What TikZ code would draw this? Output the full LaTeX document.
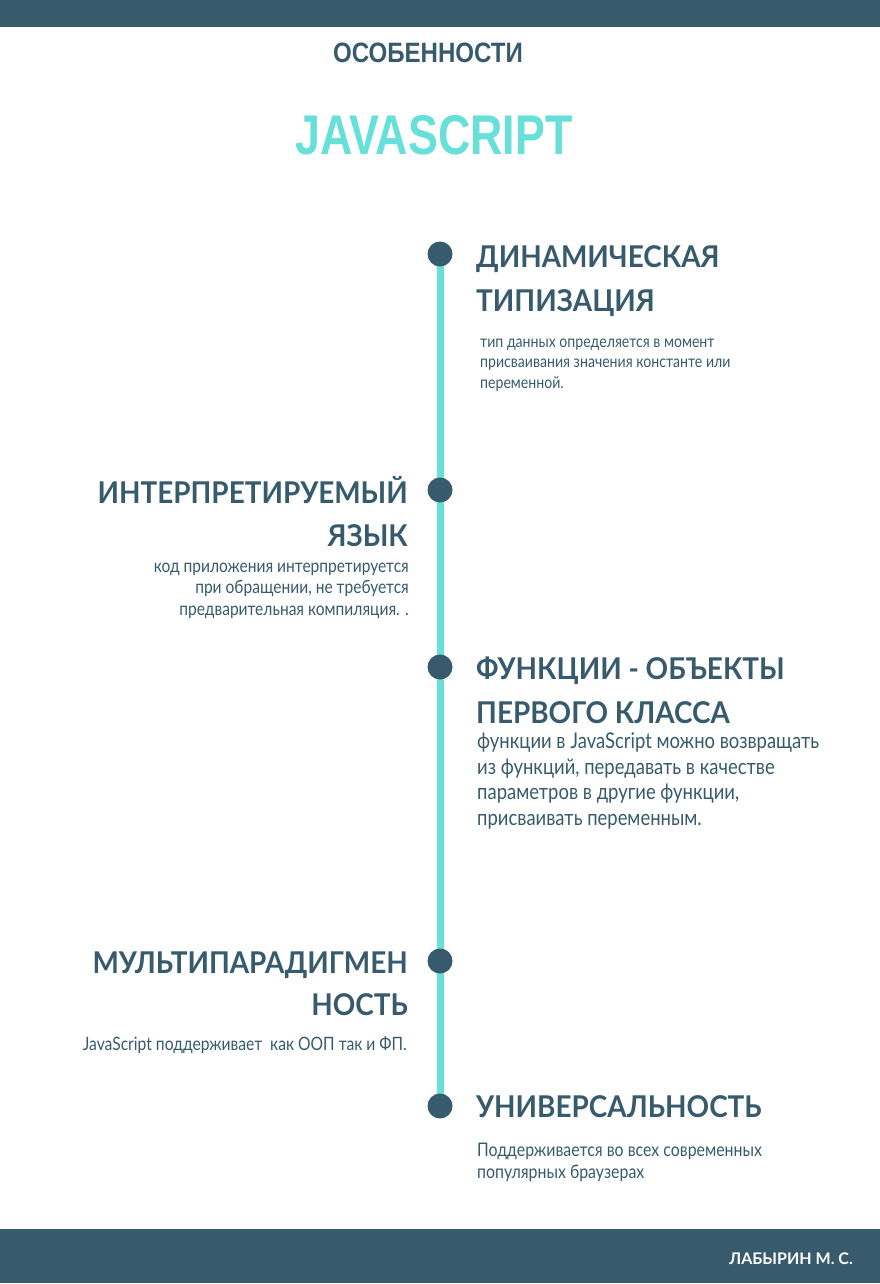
\documentclass[tikz,border=0pt]{standalone}
\usepackage{fontspec}
\setmainfont{Lato}
\newfontfamily\condfont[FakeStretch=0.86]{Liberation Sans}
\newfontfamily\titlefont[FakeStretch=0.8]{Liberation Sans}
\newfontfamily\headfont[FakeStretch=0.93]{Lato}
\newfontfamily\bodyfont[FakeStretch=0.85]{Lato}
\usetikzlibrary{positioning,backgrounds}

\definecolor{slate}{RGB}{55,91,109}
\definecolor{turq}{RGB}{102,224,216}

\tikzstyle{bar}=[fill=slate]
\tikzstyle{dot}=[circle,fill=slate,minimum size=25pt,inner sep=0pt]
\tikzstyle{spine}=[turq,line width=7pt]
\tikzstyle{heading}=[text=slate,inner sep=0pt,font=\headfont\bfseries\fontsize{30}{44}\selectfont]
\tikzstyle{body}=[text=slate,inner sep=0pt,font=\bodyfont\fontsize{18.4}{21.5}\selectfont]

\begin{document}
\begin{tikzpicture}[x=1pt,y=-1pt] % one unit = one pixel, origin top left
\useasboundingbox (0,0) rectangle (880,1284);

% page bars
\fill[bar] (0,0) rectangle (880,27);
\fill[bar] (0,1229) rectangle (880,1283);

\node[text=slate,inner sep=0pt,anchor=base,font=\condfont\bfseries\fontsize{28}{28}\selectfont] (sub) at (428,63) {ОСОБЕННОСТИ};
\node[text=turq,inner sep=0pt,anchor=base,font=\titlefont\bfseries\fontsize{56}{56}\selectfont] (title) at (434,155) {JAVASCRIPT};

% timeline dots and spine
\foreach \i/\y in {1/254,2/490,3/667,4/961,5/1106}
  \node[dot] (dot\i) at (440,\y) {};
\begin{scope}[on background layer]
\draw[spine] (dot1.center) -- (dot5.center);
\end{scope}

% right side (base = last line)
\node[heading,anchor=base west,align=left] (dyn) at (476,311) {ДИНАМИЧЕСКАЯ\\ТИПИЗАЦИЯ};
\node[body,anchor=base west,align=left,font=\bodyfont\fontsize{16.6}{20.5}\selectfont] (dyntxt) at (480,388) {тип данных определяется в момент\\присваивания значения константе или\\переменной.};

\node[heading,anchor=base west,align=left] (func) at (476,723) {ФУНКЦИИ - ОБЪЕКТЫ\\ПЕРВОГО КЛАССА};
\node[body,anchor=base west,align=left,font=\bodyfont\fontsize{21.7}{25.5}\selectfont] (functxt) at (477,825) {функции в JavaScript можно возвращать\\из функций, передавать в качестве\\параметров в другие функции,\\присваивать переменным.};

\node[heading,anchor=base west] (univ) at (476,1117) {УНИВЕРСАЛЬНОСТЬ};
\node[body,anchor=base west,align=left,font=\bodyfont\fontsize{18.7}{22}\selectfont] (univtxt) at (477,1178) {Поддерживается во всех современных\\популярных браузерах};

% left side
\node[heading,anchor=base east,align=right,font=\headfont\bfseries\fontsize{30}{43}\selectfont] (interp) at (408,546) {ИНТЕРПРЕТИРУЕМЫЙ\\ЯЗЫК};
\node[body,anchor=base east,align=right,font=\bodyfont\fontsize{18.3}{21.5}\selectfont] (interptxt) at (409,615) {код приложения интерпретируется\\при обращении, не требуется\\предварительная компиляция. .};

\node[heading,anchor=base east,align=right,font=\headfont\bfseries\fontsize{30}{42}\selectfont] (multi) at (408,1015) {МУЛЬТИПАРАДИГМЕН\\НОСТЬ};
\node[body,anchor=base east] (multitxt) at (407,1050) {JavaScript поддерживает\ \ как ООП так и ФП.};

\node[text=white,inner sep=0pt,anchor=base east,font=\bfseries\fontsize{16}{16}\selectfont] (author) at (853,1264) {ЛАБЫРИН М. С.};
\end{tikzpicture}
\end{document}
